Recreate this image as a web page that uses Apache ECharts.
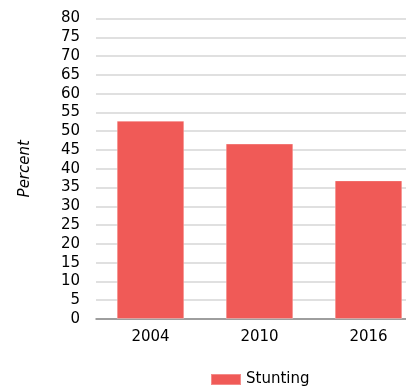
<!DOCTYPE html>
<html><head><meta charset="utf-8">
<script src="https://cdn.jsdelivr.net/npm/echarts@6/dist/echarts.min.js"></script>
<style>html,body{margin:0;padding:0;background:#fff}#c{width:406px;height:391px}</style>
</head><body><div id="c"></div>
<script>
const categories = ['2004', '2010', '2016'];
const stunting = [52.8, 46.7, 36.9];
const yTicks = [0, 80, 5];

const chart = echarts.init(document.getElementById('c'), null, {renderer: 'canvas'});
chart.setOption({
  animation: false,
  textStyle: {fontFamily: 'DejaVu Sans'},
  grid: {left: 96, top: 18.5, width: 327, height: 300.5, containLabel: false, outerBoundsMode: 'none'},
  legend: {
    top: 372, left: 210, padding: 0, itemWidth: 30, itemHeight: 11, itemGap: 6,
    textStyle: {fontSize: 15, color: '#000', fontFamily: 'DejaVu Sans'},
    icon: 'rect',
    data: ['Stunting']
  },
  xAxis: {
    type: 'category', data: categories,
    axisTick: {show: false},
    axisLine: {lineStyle: {color: '#888', width: 1.5}},
    axisLabel: {fontSize: 15, color: '#000', margin: 11}
  },
  yAxis: {
    type: 'value', min: yTicks[0], max: yTicks[1], interval: yTicks[2],
    name: 'Percent', nameLocation: 'middle', nameGap: 63,
    nameTextStyle: {fontStyle: 'italic', fontSize: 15, color: '#000'},
    axisLabel: {fontSize: 15, color: '#000', margin: 16},
    splitLine: {lineStyle: {color: '#d6d6d6', width: 1.5}}
  },
  series: [{
    name: 'Stunting', type: 'bar', data: stunting,
    barWidth: '62%',
    itemStyle: {color: '#F05A57', borderColor: 'rgba(255,255,255,0.3)', borderWidth: 1}
  }]
});
</script></body></html>
